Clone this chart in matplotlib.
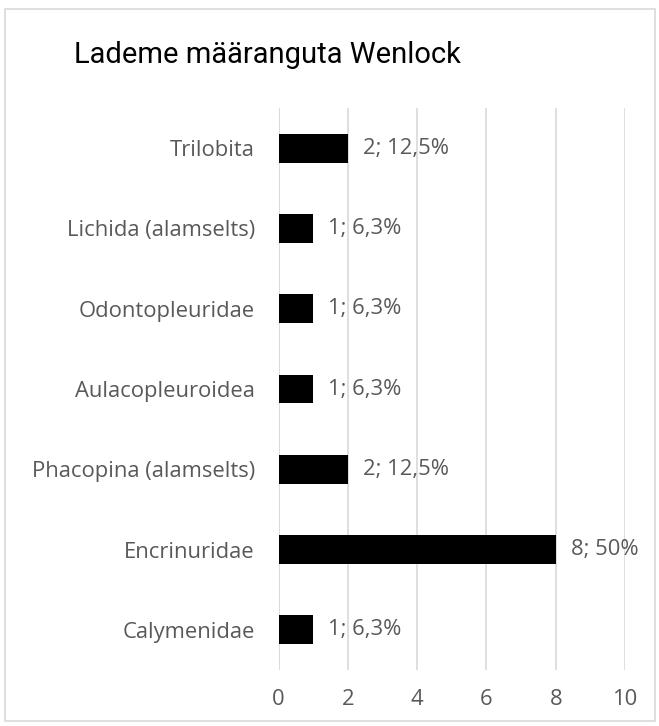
import matplotlib
matplotlib.use("Agg")
import matplotlib.pyplot as plt
from matplotlib.patches import Rectangle

categories = ["Trilobita", "Lichida (alamselts)", "Odontopleuridae", "Aulacopleuroidea",
              "Phacopina (alamselts)", "Encrinuridae", "Calymenidae"]
values = [2, 1, 1, 1, 2, 8, 1]
labels = ["2; 12,5%", "1; 6,3%", "1; 6,3%", "1; 6,3%", "2; 12,5%", "8; 50%", "1; 6,3%"]
xticks = [0, 2, 4, 6, 8, 10]

plt.rcParams['font.family'] = ['Open Sans', 'DejaVu Sans']
W, H = 659, 726
fig = plt.figure(figsize=(W/100, H/100), dpi=100)
fig.patches.append(Rectangle((5/W, 1 - 721/H), 650/W, 712/H, transform=fig.transFigure,
                             fill=False, edgecolor='#d9d9d9', lw=1.2))

left, right = 278.5, 625
top, bottom = 108, 670
ax = fig.add_axes([left/W, 1 - bottom/H, (right-left)/W, (bottom-top)/H])
n = len(categories)
ypos = list(range(n))[::-1]
ax.barh(ypos, values, height=0.36, color='black', zorder=3)
for y, v, t in zip(ypos, values, labels):
    ax.annotate(t, (v, y), xytext=(11, 0), textcoords='offset points', va='center', ha='left',
                fontsize=15.8, color='#595959', zorder=4)
ax.set_xlim(0, 10)
ax.set_ylim(-0.5, n - 0.5)
ax.set_xticks(xticks)
ax.set_xticklabels([str(x) for x in xticks])
ax.set_yticks(ypos)
ax.set_yticklabels(categories)
ax.tick_params(axis='both', length=0, labelsize=15.8, labelcolor='#595959')
ax.tick_params(axis='x', pad=14)
ax.tick_params(axis='y', pad=17)
ax.grid(axis='x', color='#d9d9d9', lw=1.2, zorder=0)
for s in ax.spines.values():
    s.set_visible(False)
ax.set_facecolor('none')
ax.axvline(0, ymin=0, ymax=1, color='#d9d9d9', lw=1.2, zorder=1)

fig.text(267/W, 1 - 55/H, "Lademe määranguta Wenlock", ha='center', va='center',
         fontsize=21, color='black', family=['Roboto', 'DejaVu Sans'])
fig.savefig("out.png", dpi=100)
